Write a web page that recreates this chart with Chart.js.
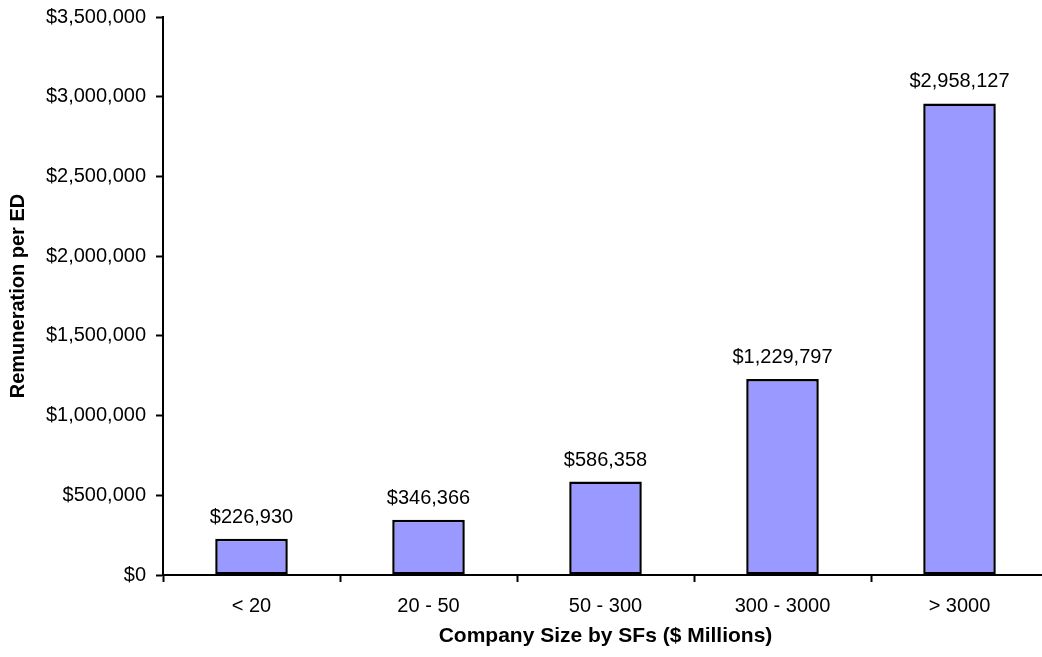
<!DOCTYPE html>
<html>
<head>
<meta charset="utf-8">
<title>Remuneration per ED by Company Size</title>
<script src="https://cdn.jsdelivr.net/npm/chart.js@4/dist/chart.umd.min.js"></script>
<style>
  html, body { margin: 0; padding: 0; background: #fff; overflow: hidden; }
  #wrap { width: 1042px; height: 657px; overflow: hidden; position: relative; }
  canvas { display: block; }
</style>
</head>
<body>
<div id="wrap"><canvas id="chart" width="1060" height="657"></canvas></div>
<script>
// Company size bands (SFs, $ millions) and average remuneration per executive director
const categories = ['< 20', '20 - 50', '50 - 300', '300 - 3000', '> 3000'];
const remuneration = [226930, 346366, 586358, 1229797, 2958127];
const yTicks = [0, 500000, 1000000, 1500000, 2000000, 2500000, 3000000, 3500000];

const FONT = "'Liberation Sans', Arial, Helvetica, sans-serif";
const money = v => '$' + Number(v).toLocaleString('en-US');

// Writes each bar's value just above it
const valueLabels = {
  id: 'valueLabels',
  afterDatasetsDraw(chart) {
    const ctx = chart.ctx;
    const meta = chart.getDatasetMeta(0);
    const data = chart.data.datasets[0].data;
    ctx.save();
    ctx.font = '20px ' + FONT;
    ctx.fillStyle = '#000';
    ctx.textAlign = 'center';
    ctx.textBaseline = 'alphabetic';
    meta.data.forEach((bar, i) => {
      ctx.fillText(money(data[i]), bar.x, bar.y - 16);
    });
    ctx.restore();
  }
};

new Chart(document.getElementById('chart'), {
  type: 'bar',
  data: {
    labels: categories,
    datasets: [{
      data: remuneration,
      backgroundColor: '#9999FF',
      borderColor: '#000',
      borderWidth: 2.5,
      borderSkipped: false,
      barPercentage: 0.41,
      categoryPercentage: 1.0
    }]
  },
  options: {
    responsive: false,
    animation: false,
    layout: { padding: { left: 0, top: 17, right: 12, bottom: 0 } },
    plugins: {
      legend: { display: false },
      tooltip: { enabled: false }
    },
    scales: {
      x: {
        offset: true,
        grid: {
          offset: true,
          drawOnChartArea: false,
          drawTicks: true,
          tickLength: 7,
          tickWidth: 2,
          tickColor: '#000'
        },
        border: { display: true, color: '#000', width: 2 },
        ticks: {
          color: '#000',
          padding: 12,
          maxRotation: 0,
          font: { family: FONT, size: 20 }
        },
        title: {
          display: true,
          text: 'Company Size by SFs ($ Millions)',
          color: '#000',
          font: { family: FONT, size: 21, weight: 'bold' },
          padding: { top: 0, bottom: 8 }
        },
        afterFit(scale) { scale.height = 82; }
      },
      y: {
        min: 0,
        max: 3500000,
        grid: {
          drawOnChartArea: false,
          drawTicks: true,
          tickLength: 7,
          tickWidth: 2,
          tickColor: '#000'
        },
        border: { display: true, color: '#000', width: 2 },
        afterBuildTicks(scale) {
          scale.ticks = yTicks.map(v => ({ value: v }));
        },
        ticks: {
          color: '#000',
          padding: 10,
          font: { family: FONT, size: 20 },
          callback: v => money(v)
        },
        title: {
          display: true,
          text: 'Remuneration per ED',
          color: '#000',
          font: { family: FONT, size: 20, weight: 'bold' },
          padding: { top: 6, bottom: 0 }
        },
        afterFit(scale) {
          scale.width = 163;
          scale.paddingTop = 0;
          scale.paddingBottom = 0;
        }
      }
    }
  },
  plugins: [valueLabels]
});
</script>
</body>
</html>
